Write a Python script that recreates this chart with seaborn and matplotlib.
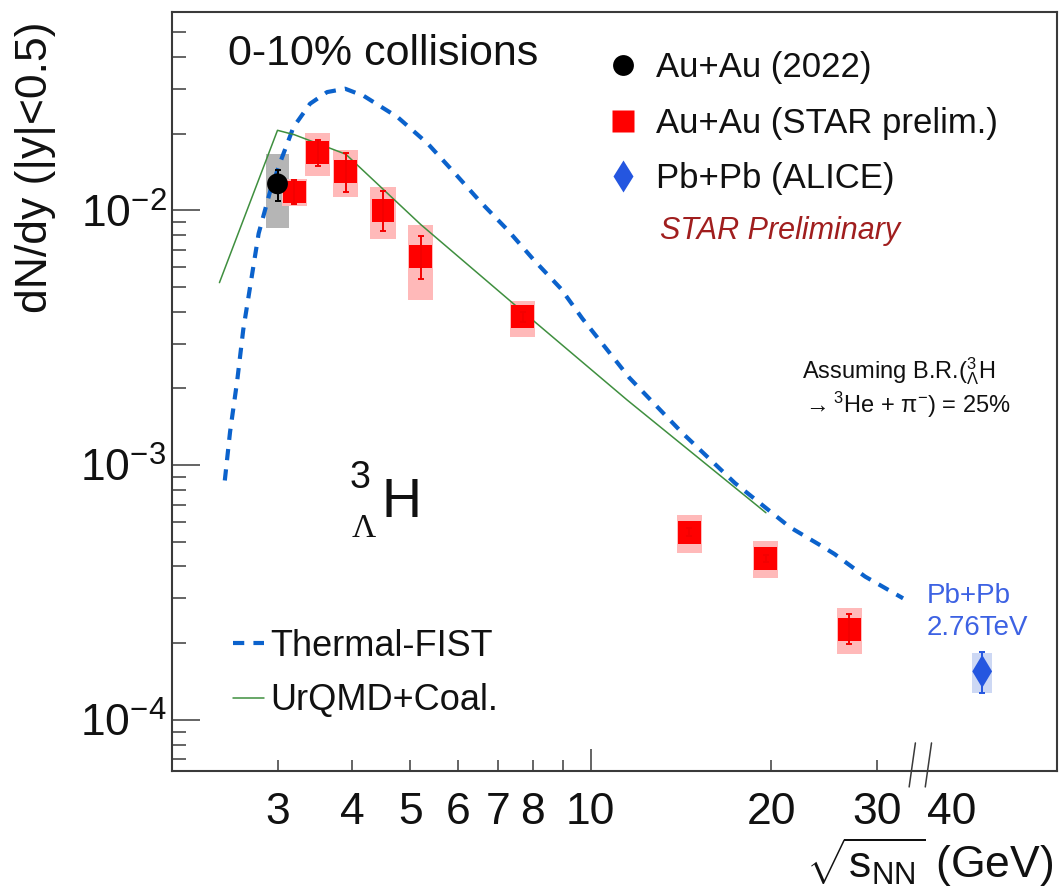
import matplotlib
matplotlib.use("Agg")
import matplotlib.pyplot as plt
import matplotlib.transforms as mtransforms
from matplotlib.patches import Rectangle
from matplotlib.lines import Line2D
import seaborn as sns

# ---------------- data ----------------
# Au+Au 2022 (published, sqrt(sNN) = 3 GeV)
pub_energy = [3.0]
pub_dndy = [0.0127]
pub_stat_lo = [0.0109]
pub_stat_hi = [0.0144]
pub_sys_lo = [0.0085]
pub_sys_hi = [0.0167]

# Au+Au STAR preliminary
star_energy = [3.2, 3.5, 3.9, 4.5, 5.2, 7.7, 14.6, 19.6, 27.0]
star_dndy = [0.0118, 0.0169, 0.0142, 0.0100, 0.00656, 0.00382, 5.45e-4, 4.31e-4, 2.27e-4]
star_stat_lo = [0.0106, 0.0149, 0.0118, 0.00827, 0.00535, 0.00365, 5.25e-4, 4.15e-4, 1.99e-4]
star_stat_hi = [0.0132, 0.0189, 0.0168, 0.0119, 0.00791, 0.00400, 5.65e-4, 4.45e-4, 2.60e-4]
star_sys_lo = [0.0104, 0.0136, 0.0113, 0.00774, 0.00444, 0.00319, 4.51e-4, 3.59e-4, 1.81e-4]
star_sys_hi = [0.0133, 0.0201, 0.0173, 0.0123, 0.00879, 0.00441, 6.37e-4, 5.02e-4, 2.74e-4]

# Pb+Pb ALICE 2.76 TeV (drawn after the axis break)
alice_energy = [45.0]
alice_dndy = [1.55e-4]
alice_stat_lo = [1.27e-4]
alice_stat_hi = [1.85e-4]
alice_sys_lo = [1.27e-4]
alice_sys_hi = [1.83e-4]

# Thermal-FIST curve
fist_energy = [2.45, 2.50, 2.57, 2.63, 2.70, 2.79, 2.92, 3.04, 3.19, 3.40, 3.63, 3.89,
               4.18, 4.76, 5.34, 5.91, 6.54, 7.27, 8.04, 8.91, 9.68, 11.6, 14.2, 17.4,
               21.5, 24.0, 25.5, 28.7, 33.2]
fist_dndy = [8.7e-4, 1.35e-3, 2.15e-3, 3.4e-3, 5.0e-3, 8.1e-3, 1.2e-2, 1.57e-2, 2.12e-2,
             2.62e-2, 2.91e-2, 3.0e-2, 2.81e-2, 2.32e-2, 1.83e-2, 1.41e-2, 1.08e-2,
             8.35e-3, 6.37e-3, 4.93e-3, 3.76e-3, 2.2e-3, 1.34e-3, 8.5e-4, 5.7e-4,
             4.89e-4, 4.48e-4, 3.65e-4, 3.0e-4]

# UrQMD + coalescence
urqmd_energy = [2.4, 3.0, 3.2, 3.9, 5.2, 7.7, 11.5, 19.6]
urqmd_dndy = [5.2e-3, 2.06e-2, 1.98e-2, 1.66e-2, 8.8e-3, 4.0e-3, 1.8e-3, 6.5e-4]

x_ticks_major = [10]
x_ticks_minor = [3, 4, 5, 6, 7, 8, 9, 20, 30]
x_minor_labels = ["3", "4", "5", "6", "7", "8", "", "20", "30"]
x_break_label = 40          # labelled after the break, no tick
y_ticks = [1e-4, 1e-3, 1e-2]
y_labels = [r"$\mathrm{10^{-4}}$", r"$\mathrm{10^{-3}}$", r"$\mathrm{10^{-2}}$"]
break_x = [34.4, 36.6]

# ---------------- style ----------------
sns.set_theme(style="white")
plt.rcParams["font.family"] = ["Liberation Sans", "DejaVu Sans"]
plt.rcParams["mathtext.fontset"] = "custom"
plt.rcParams["mathtext.rm"] = "Liberation Sans"
plt.rcParams["mathtext.it"] = "Liberation Sans:italic"
plt.rcParams["mathtext.bf"] = "Liberation Sans:bold"
plt.rcParams["text.color"] = "#111111"
plt.rcParams["axes.labelcolor"] = "#111111"

frame_col = "#3a3a3a"
fist_col = "#0b62cc"
urqmd_col = "#3f8f3f"
alice_col = "#2456e0"
text_col = "#111111"
tick_pad = 15

fig = plt.figure(figsize=(10.63, 8.96), dpi=100)
ax = fig.add_axes([0.1618, 0.1395, 0.8326, 0.8471])
ax.set_xscale("log")
ax.set_yscale("log")
ax.set_xlim(2.0, 60.0)
ax.set_ylim(6.3e-5, 0.06)


def sys_boxes(xs, lo, hi, half_dec, color, z):
    f = 10 ** half_dec
    for x, a, b in zip(xs, lo, hi):
        ax.add_patch(Rectangle((x / f, a), x * f - x / f, b - a,
                               facecolor=color, edgecolor="none", zorder=z))


# systematic boxes
sys_boxes(pub_energy, pub_sys_lo, pub_sys_hi, 0.020, "#b5b5b5", 2)
sys_boxes(star_energy, star_sys_lo, star_sys_hi, 0.021, "#ffb9b9", 2)
sys_boxes(alice_energy, alice_sys_lo, alice_sys_hi, 0.017, "#cdd8f4", 2)

# model curves
sns.lineplot(x=fist_energy, y=fist_dndy, ax=ax, color=fist_col, linewidth=3.0,
             linestyle=(0, (2.7, 2.2)), sort=False, estimator=None, legend=False, zorder=3)
fist_line = ax.lines[-1]
sns.lineplot(x=urqmd_energy, y=urqmd_dndy, ax=ax, color=urqmd_col, linewidth=1.1,
             sort=False, estimator=None, legend=False, zorder=3)
urqmd_line = ax.lines[-1]

# data points
sns.scatterplot(x=star_energy, y=star_dndy, ax=ax, marker="s", s=16.5 ** 2,
                color="#ff0000", edgecolor="none", linewidth=0, zorder=4, legend=False)
sns.scatterplot(x=pub_energy, y=pub_dndy, ax=ax, marker="o", s=15 ** 2,
                color="black", edgecolor="none", linewidth=0, zorder=4, legend=False)
sns.scatterplot(x=alice_energy, y=alice_dndy, ax=ax, marker="d", s=16.8 ** 2,
                color=alice_col, edgecolor="none", linewidth=0, zorder=4, legend=False)


def stat_bars(xs, ys, lo, hi, color):
    err = [[y - a for y, a in zip(ys, lo)], [b - y for y, b in zip(ys, hi)]]
    ax.errorbar(xs, ys, yerr=err, fmt="none", ecolor=color, elinewidth=1.4,
                capsize=2.4, capthick=1.4, zorder=5)


stat_bars(star_energy, star_dndy, star_stat_lo, star_stat_hi, "#f40000")
stat_bars(pub_energy, pub_dndy, pub_stat_lo, pub_stat_hi, "black")
stat_bars(alice_energy, alice_dndy, alice_stat_lo, alice_stat_hi, alice_col)

# ---------------- axes ----------------
for sp in ax.spines.values():
    sp.set_color(frame_col)
    sp.set_linewidth(1.5)

ax.set_xticks(x_ticks_major, [str(t) for t in x_ticks_major])
ax.set_xticks(x_ticks_minor, x_minor_labels, minor=True)
ax.set_yticks(y_ticks, y_labels)
ax.yaxis.set_minor_locator(matplotlib.ticker.LogLocator(base=10, subs=range(2, 10)))
ax.yaxis.set_minor_formatter(matplotlib.ticker.NullFormatter())

ax.tick_params(axis="both", which="both", direction="in", colors=frame_col,
               labelcolor=text_col, labelsize=32, width=1.1,
               bottom=True, left=True, top=False, right=False)
ax.tick_params(axis="x", which="major", length=15.8, pad=tick_pad)
ax.tick_params(axis="x", which="minor", length=7.9, pad=tick_pad)
ax.tick_params(axis="y", which="major", length=20, pad=4)
ax.tick_params(axis="y", which="minor", length=10)

bt = mtransforms.blended_transform_factory(ax.transData, ax.transAxes)
ax.annotate(str(x_break_label), xy=(x_break_label, 0), xycoords=bt,
            xytext=(0, -tick_pad), textcoords="offset points",
            ha="center", va="top", fontsize=32, color=text_col, annotation_clip=False)

ax.set_xlabel(r"$\sqrt{\mathrm{s}_{\mathrm{NN}}}$ (GeV)", fontsize=32,
              ha="right", va="baseline", color=text_col)
ax.xaxis.set_label_coords(0.9955, -0.141)
ax.set_ylabel("dN/dy (|y|<0.5)", fontsize=32, va="center", ha="center", color=text_col)
ax.yaxis.set_label_coords(-0.1537, 0.7958)

# axis break marks
for bx in break_x:
    ax.plot([bx * 1.012, bx * 0.988], [0.037, -0.021], color=frame_col, lw=1.1,
            transform=bt, clip_on=False, zorder=6)

# ---------------- legends ----------------
marker_handles = [
    Line2D([], [], ls="none", marker="o", ms=15, color="black", mec="none"),
    Line2D([], [], ls="none", marker="s", ms=16.5, color="#ff0000", mec="none"),
    Line2D([], [], ls="none", marker="d", ms=16.8, color=alice_col, mec="none"),
]
leg1 = ax.legend(marker_handles,
                 ["Au+Au (2022)", "Au+Au (STAR prelim.)", "Pb+Pb (ALICE)"],
                 loc="upper left", bbox_to_anchor=(0.49, 0.948), frameon=False,
                 fontsize=25, handlelength=1.0, handletextpad=0.45, borderpad=0,
                 borderaxespad=0, labelspacing=0.64, labelcolor=text_col)
ax.add_artist(leg1)
ax.legend([fist_line, urqmd_line], ["Thermal-FIST", "UrQMD+Coal."],
          loc="upper left", bbox_to_anchor=(0.0689, 0.187), frameon=False,
          fontsize=26, handlelength=0.86, handletextpad=0.17, borderpad=0,
          borderaxespad=0, labelspacing=0.53, labelcolor=text_col)

# ---------------- annotations ----------------
ax.text(0.0633, 0.9302, "0-10% collisions", fontsize=31, color=text_col,
        transform=ax.transAxes, va="baseline")
ax.text(0.5514, 0.701, "STAR Preliminary", fontsize=22, style="italic",
        color="#a01e1e", transform=ax.transAxes, va="baseline")
ax.text(0.7119, 0.5174, r"Assuming B.R.(${}^{3}_{\Lambda}$H", fontsize=17,
        color=text_col, transform=ax.transAxes, va="baseline")
ax.text(0.7119, 0.4713, r"$\rightarrow$$^{3}$He + π$^{-}$) = 25%", fontsize=17,
        color=text_col, transform=ax.transAxes, va="baseline")
ax.text(0.8531, 0.221, "Pb+Pb", fontsize=20, color="#3d62e3",
        transform=ax.transAxes, va="baseline")
ax.text(0.8531, 0.1792, "2.76TeV", fontsize=20, color="#3d62e3",
        transform=ax.transAxes, va="baseline")
ax.text(0.237, 0.335, "H", fontsize=40, color=text_col,
        transform=ax.transAxes, va="baseline")
ax.text(0.2011, 0.3725, "3", fontsize=27, color=text_col,
        transform=ax.transAxes, va="baseline")
ax.text(0.2034, 0.3083, "Λ", fontsize=24, color=text_col,
        family=["Liberation Serif", "DejaVu Serif"],
        transform=ax.transAxes, va="baseline")

fig.savefig("out.png", dpi=100)
